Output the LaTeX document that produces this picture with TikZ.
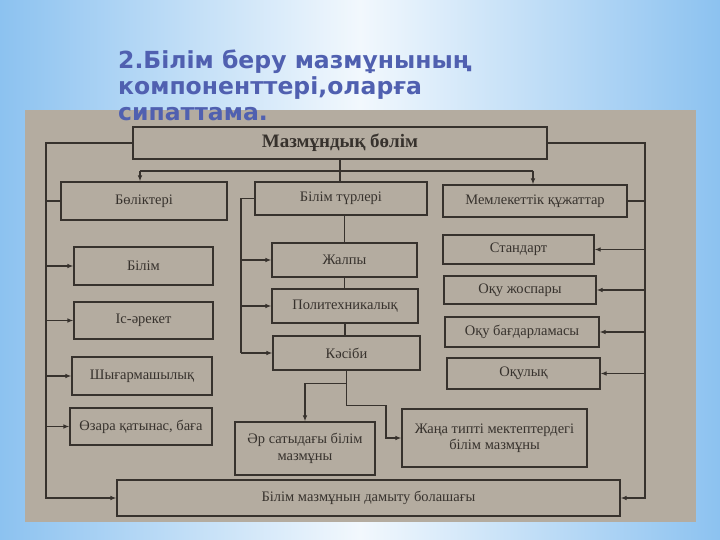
\documentclass[tikz,border=0pt]{standalone}
\usepackage{fontspec}
\setmainfont{Liberation Serif}
\newfontfamily\titlefont{DejaVu Sans}
\usetikzlibrary{arrows.meta}
\definecolor{bgblue}{RGB}{140,194,240}
\definecolor{bgwhite}{RGB}{242,248,253}
\definecolor{paper}{RGB}{180,172,160}
\definecolor{ink}{RGB}{55,50,45}
\definecolor{titleblue}{RGB}{80,96,176}
\tikzset{
  box/.style={draw=ink, line width=1.1pt, inner sep=1pt, text=ink, font=\fontsize{14.5}{16.5}\selectfont, align=center},
  conn/.style={draw=ink, line width=1.1pt},
  arr/.style={conn, -{Latex[length=6pt,width=4.5pt]}},
  ttl/.style={anchor=base west, inner sep=0pt, text=titleblue, font=\titlefont\bfseries\fontsize{23.5}{28}\selectfont}
}
\begin{document}
\begin{tikzpicture}[x=1pt,y=-1pt]
\useasboundingbox (0,0) rectangle (720,540);
\shade[left color=bgblue, right color=bgblue, middle color=bgwhite] (0,0) rectangle (720,540);
\fill[paper] (25,110) rectangle (696,522);

% boxes
\node[box, minimum width=414, minimum height=32, font=\bfseries\fontsize{19}{21}\selectfont] (top) at (340,143) {Мазмұндық бөлім};
\node[box, minimum width=166, minimum height=38] (parts) at (144,201) {Бөліктері};
\node[box, minimum width=172, minimum height=33] (types) at (341,198.5) {Білім түрлері};
\node[box, minimum width=184, minimum height=32] (docs) at (535,201) {Мемлекеттік құжаттар};

\node[box, minimum width=139, minimum height=38] (bilim) at (143.5,266) {Білім};
\node[box, minimum width=139, minimum height=37] (is) at (143.5,320.5) {Іс-әрекет};
\node[box, minimum width=140, minimum height=38] (shyg) at (142,376) {Шығармашылық};
\node[box, minimum width=142, minimum height=37] (ozara) at (141,426.5) {Өзара қатынас, баға};

\node[box, minimum width=145, minimum height=34] (zhalpy) at (344.5,260) {Жалпы};
\node[box, minimum width=146, minimum height=34] (poly) at (345,306) {Политехникалық};
\node[box, minimum width=147, minimum height=34] (kasibi) at (346.5,353) {Кәсіби};

\node[box, minimum width=151, minimum height=29] (standart) at (518.5,249.5) {Стандарт};
\node[box, minimum width=152, minimum height=28] (zhospar) at (520,290) {Оқу жоспары};
\node[box, minimum width=154, minimum height=30] (bagdar) at (522,332) {Оқу бағдарламасы};
\node[box, minimum width=153, minimum height=31] (okulyk) at (523.5,373.5) {Оқулық};

\node[box, minimum width=140, minimum height=53] (arsaty) at (305,448.5) {Әр сатыдағы білім\\мазмұны};
\node[box, minimum width=185, minimum height=58] (zhana) at (494.5,438) {Жаңа типті мектептердегі\\білім мазмұны};
\node[box, minimum width=503, minimum height=36] (bolashak) at (368.5,498) {Білім мазмұнын дамыту болашағы};

% helper coordinates
\coordinate (lx) at (46,0);
\coordinate (rx) at (645,0);
\coordinate (mx) at (241,0);
\coordinate (jx) at (386,0);

% left loop
\draw[arr] (top.west) -| (lx |- bolashak) -- (bolashak.west);
\draw[conn] (lx |- parts) -- (parts.west);
\draw[arr] (lx |- bilim) -- (bilim.west);
\draw[arr] (lx |- is) -- (is.west);
\draw[arr] (lx |- shyg) -- (shyg.west);
\draw[arr] (lx |- ozara) -- (ozara.west);

% right loop
\draw[arr] (top.east) -| (rx |- bolashak) -- (bolashak.east);
\draw[conn] (docs.east) -- (rx |- docs);
\draw[arr] (rx |- standart) -- (standart.east);
\draw[arr] (rx |- zhospar) -- (zhospar.east);
\draw[arr] (rx |- bagdar) -- (bagdar.east);
\draw[arr] (rx |- okulyk) -- (okulyk.east);

% top branches
\draw[conn] (top.south) -- (top.south |- types.north);
\draw[conn] (140,171) coordinate (hl) -- (533,171) coordinate (hr);
\draw[arr] (hl) -- (hl |- parts.north);
\draw[arr] (hr) -- (hr |- docs.north);

% middle column
\draw[conn] (types.west) -| (mx |- kasibi);
\draw[arr] (mx |- zhalpy) -- (zhalpy.west);
\draw[arr] (mx |- poly) -- (poly.west);
\draw[arr] (mx |- kasibi) -- (kasibi.west);
\draw[conn] (zhalpy.north |- types.south) -- (zhalpy.north);
\draw[conn] (zhalpy.south) -- (zhalpy.south |- poly.north);
\draw[conn] (poly.south) -- (poly.south |- kasibi.north);

% from Kasibi
\draw[arr] (kasibi.south) -- ++(0,13) -| (arsaty.north);
\draw[arr] (kasibi.south) -- ++(0,35) -| (jx |- zhana.west) -- (zhana.west);

% title
\node[ttl] (t1) at (118,69) {2.Білім беру мазмұнының};
\node[ttl] (t2) at (118,95) {компоненттері,оларға};
\node[ttl] (t3) at (118,121) {сипаттама.};
\end{tikzpicture}
\end{document}
